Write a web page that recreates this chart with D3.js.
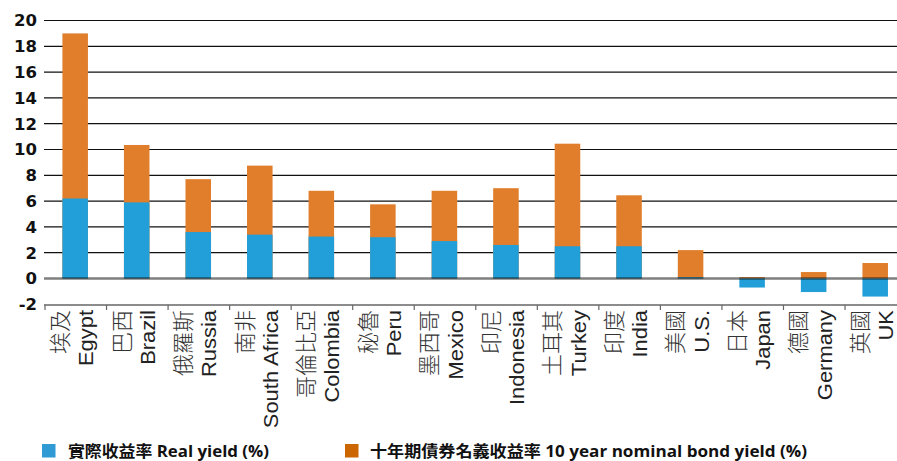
<!DOCTYPE html>
<html>
<head>
<meta charset="utf-8">
<script src="https://cdn.jsdelivr.net/npm/d3@7"></script>
<style>
  html, body { margin: 0; padding: 0; background: #fff; overflow: hidden; }
  svg { display: block; }
</style>
</head>
<body>
<svg id="chart" width="897" height="461"></svg>
<script>
// ---- data ----
const categoriesZh = ['埃及','巴西','俄羅斯','南非','哥倫比亞','秘魯','墨西哥','印尼','土耳其','印度','美國','日本','德國','英國'];
const categoriesEn = ['Egypt','Brazil','Russia','South Africa','Colombia','Peru','Mexico','Indonesia','Turkey','India','U.S.','Japan','Germany','UK'];
const realYield    = [6.2, 5.9, 3.6, 3.4, 3.25, 3.2, 2.9, 2.6, 2.5, 2.5, 0.1, -0.7, -1.05, -1.4];
const nominalYield = [19.0, 10.35, 7.7, 8.75, 6.8, 5.75, 6.8, 7.0, 10.45, 6.45, 2.2, 0.1, 0.5, 1.2];
const yTicks = [-2, 0, 2, 4, 6, 8, 10, 12, 14, 16, 18, 20];
const legendLabels = ['實際收益率 Real yield (%)', '十年期債券名義收益率 10 year nominal bond yield (%)'];

// ---- layout ----
const svg = d3.select('#chart');
const step = 61.54;
const x0 = 45;
const x = d3.scaleBand().domain(categoriesEn).range([x0, x0 + step * categoriesEn.length]).padding(0);
const y = d3.scaleLinear().domain([-2, 20]).range([304.3, 20.5]);
const barW = step * 0.415;
const barColors = { real: '#229fd8', nominal: '#e07e2b' };
const legendColors = { real: '#2f9ad4', nominal: '#cc6600' };

// gridlines
svg.append('g').selectAll('line').data(yTicks.filter(t => t > 0)).join('line')
  .attr('x1', 44).attr('x2', 897)
  .attr('y1', d => y(d)).attr('y2', d => y(d))
  .attr('stroke', '#111').attr('stroke-width', 1.2);

// y labels
svg.append('g').selectAll('text').data(yTicks).join('text')
  .attr('x', 37).attr('y', d => y(d))
  .attr('text-anchor', 'end').attr('dy', '0.36em')
  .attr('font-family', 'DejaVu Sans, sans-serif').attr('font-weight', 'bold')
  .attr('font-size', 16.5).attr('fill', '#111')
  .text(d => d);

// bars: nominal behind, real in front (overlapped)
const bars = svg.append('g');
const barX = d => x(d) + (step - barW) / 2 - 0.6;
bars.selectAll('rect.nom').data(categoriesEn).join('rect').attr('class', 'nom')
  .attr('x', barX).attr('width', barW)
  .attr('y', (d, i) => y(Math.max(0, nominalYield[i])))
  .attr('height', (d, i) => Math.abs(y(nominalYield[i]) - y(0)))
  .attr('fill', barColors.nominal);
bars.selectAll('rect.real').data(categoriesEn).join('rect').attr('class', 'real')
  .attr('x', barX).attr('width', barW)
  .attr('y', (d, i) => y(Math.max(0, realYield[i])))
  .attr('height', (d, i) => Math.abs(y(realYield[i]) - y(0)))
  .attr('fill', barColors.real);

// zero line on top
svg.append('line').attr('x1', 44).attr('x2', 897).attr('y1', y(0)).attr('y2', y(0))
  .attr('stroke', '#000').attr('stroke-opacity', 0.5).attr('stroke-width', 2.6);

// x axis at -2
const axisY = y(-2) + 0.7;
svg.append('line').attr('x1', 44).attr('x2', 897).attr('y1', axisY).attr('y2', axisY)
  .attr('stroke', '#666').attr('stroke-width', 1.4);
svg.append('g').selectAll('line').data(categoriesEn).join('line')
  .attr('x1', d => x(d)).attr('x2', d => x(d))
  .attr('y1', axisY).attr('y2', axisY + 5)
  .attr('stroke', '#666').attr('stroke-width', 1.2);

// category labels
const lab = svg.append('g').selectAll('g').data(categoriesEn).join('g')
  .attr('transform', d => `translate(${x(d)},310)`);
lab.append('text')
  .attr('transform', 'translate(13,0) rotate(-90)')
  .attr('text-anchor', 'end').attr('dominant-baseline', 'central')
  .attr('font-family', '"Noto Sans CJK TC", sans-serif').attr('font-weight', 300)
  .attr('font-size', 22).attr('fill', '#333')
  .text((d, i) => categoriesZh[i]);
lab.append('text')
  .attr('transform', 'translate(48.3,0) scale(1,1.07) rotate(-90)')
  .attr('text-anchor', 'end')
  .attr('font-family', '"Liberation Sans", Arial, sans-serif')
  .attr('font-size', 20.5).attr('fill', '#222')
  .text(d => d);

// legend
const legendItems = [
  { key: 'real', label: legendLabels[0], rx: 42, tx: 68, tw: 201 },
  { key: 'nominal', label: legendLabels[1], rx: 345, tx: 370, tw: 437 }
];
const lg = svg.append('g');
legendItems.forEach(it => {
  lg.append('rect').attr('x', it.rx).attr('y', 444).attr('width', 13.5).attr('height', 13.5)
    .attr('fill', legendColors[it.key]);
  const t = lg.append('text').attr('x', it.tx).attr('y', 456.5)
    .attr('font-family', '"Open Sans", "Noto Sans CJK TC", sans-serif')
    .attr('font-weight', 'bold').attr('font-size', 16).attr('fill', '#111')
    .text(it.label);
  const w = t.node().getComputedTextLength();
  if (Math.abs(w - it.tw) > 2) t.attr('textLength', it.tw).attr('lengthAdjust', 'spacingAndGlyphs');
});
</script>
</body>
</html>
